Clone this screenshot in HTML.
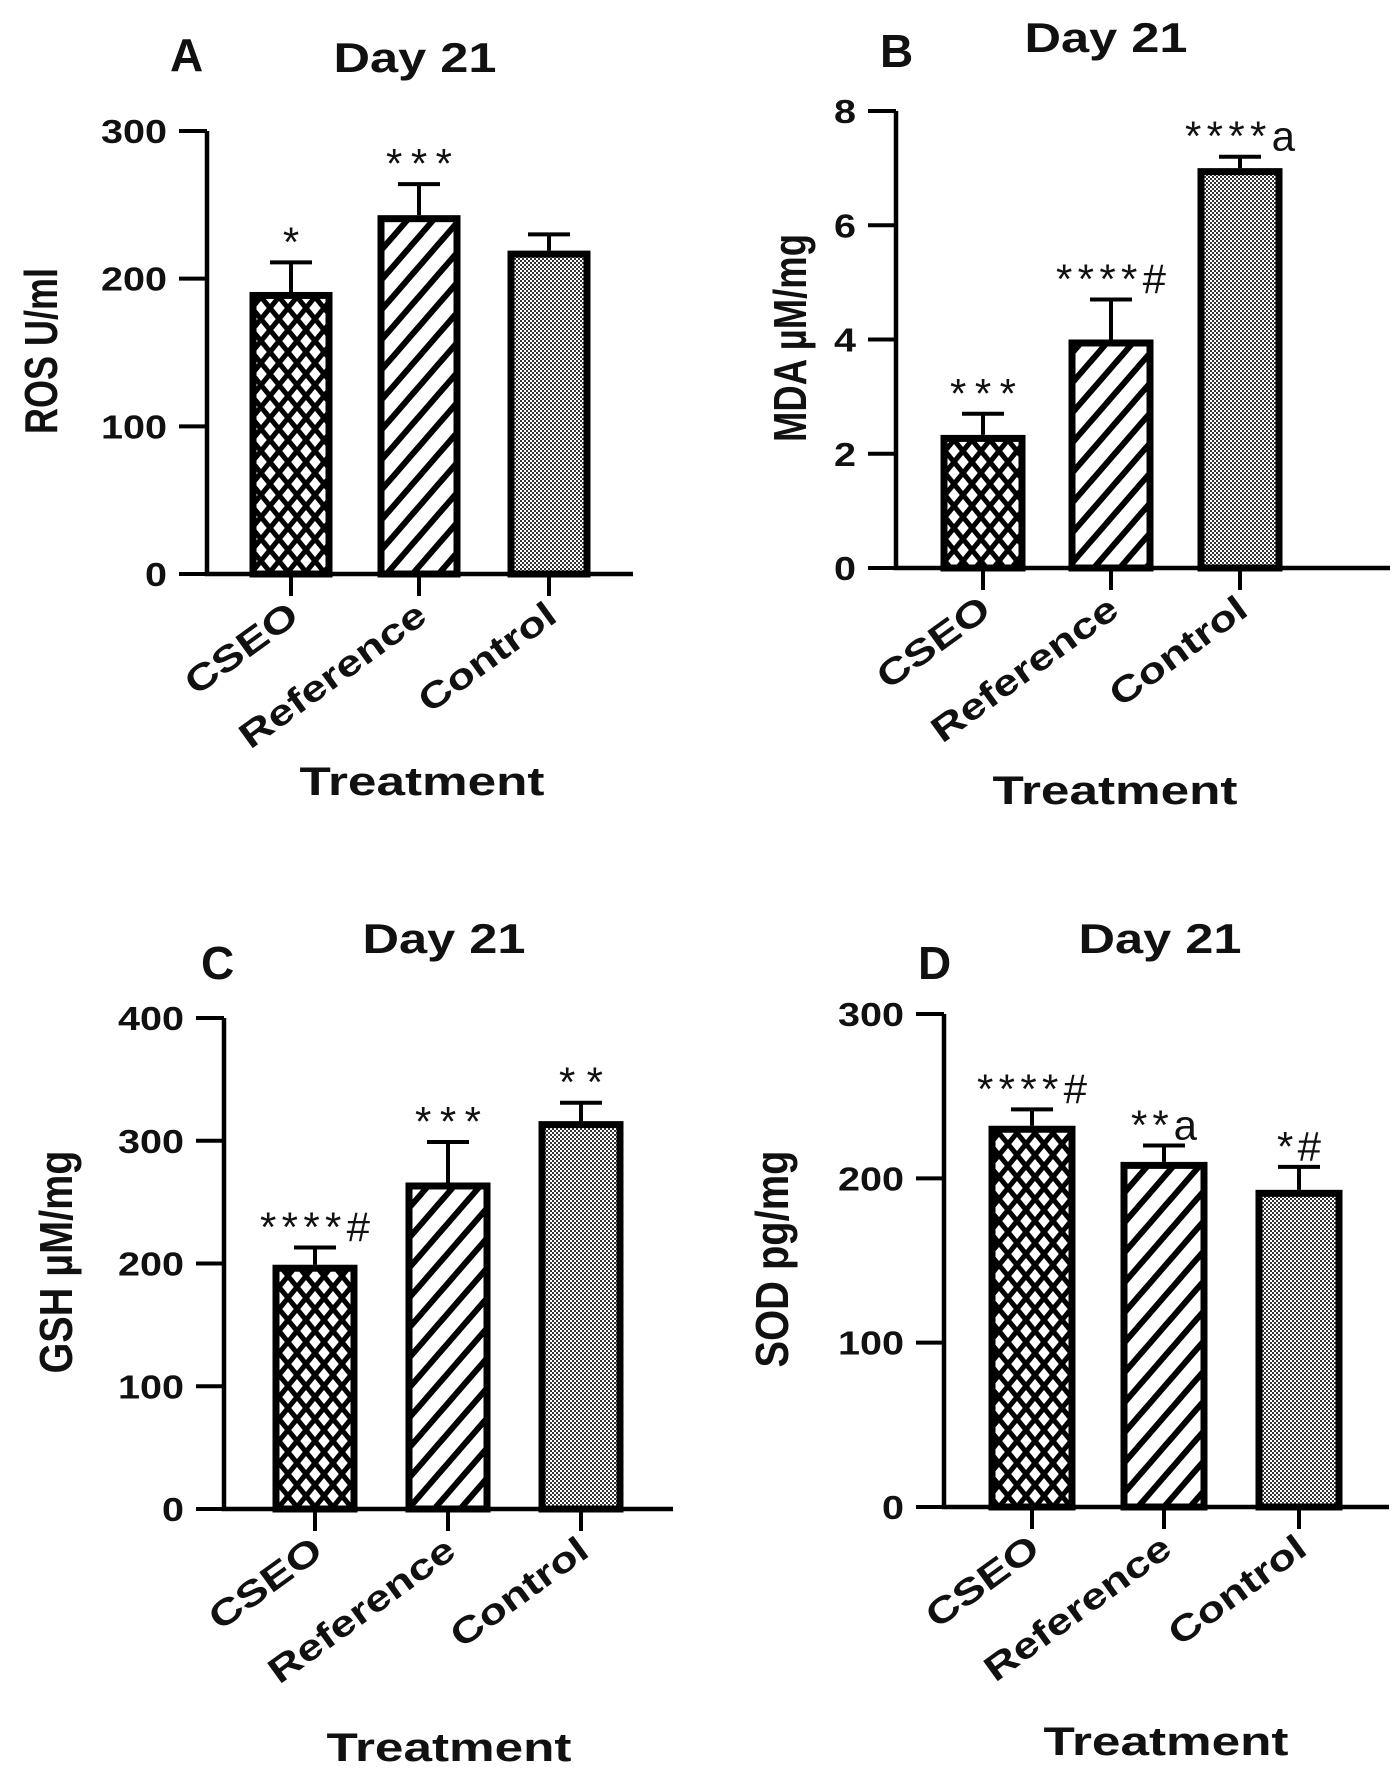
<!DOCTYPE html>
<html><head><meta charset="utf-8"><style>
html,body{margin:0;padding:0;background:#fff;}
svg{display:block;}
text{font-family:"Liberation Sans",Arial,sans-serif;fill:#111;}
</style></head>
<body>
<svg id="chart" width="1400" height="1782" viewBox="0 0 1400 1782" xmlns="http://www.w3.org/2000/svg">
<defs>
<pattern id="pat-cross" patternUnits="userSpaceOnUse" width="18" height="22">
<rect width="18" height="22" fill="#fff"/>
<path d="M0,0 L18,22 M18,0 L0,22 M-9,11 L9,33 M9,-11 L27,11 M-9,11 L9,-11 M9,33 L27,11" stroke="#000" stroke-width="5"/>
</pattern>
<pattern id="pat-stripe" patternUnits="userSpaceOnUse" width="26" height="30">
<rect width="26" height="30" fill="#fff"/>
<path d="M-6,37 L32,-7 M-19,22 L19,-22 M7,52 L45,8" stroke="#000" stroke-width="6"/>
</pattern>
<pattern id="pat-dots" patternUnits="userSpaceOnUse" width="4" height="4">
<rect width="4" height="4" fill="#fff"/>
<rect width="2" height="2" fill="#333"/>
<rect x="2" y="2" width="2" height="2" fill="#333"/>
</pattern>
</defs>
</svg>
<script>
const categories = ["CSEO", "Reference", "Control"];
const valuesA = [191, 243, 219];
const errA = [211, 264, 230];
const notesA = ["*", "***", ""];
const ticksA = [0, 100, 200, 300];
const valuesB = [2.33, 4.0, 7.0];
const errB = [2.7, 4.7, 7.2];
const notesB = ["***", "****#", "****a"];
const ticksB = [0, 2, 4, 6, 8];
const valuesC = [199, 266, 316];
const errC = [213, 299, 331];
const notesC = ["****#", "***", "**"];
const ticksC = [0, 100, 200, 300, 400];
const valuesD = [232, 210, 193];
const errD = [242, 220, 207];
const notesD = ["****#", "**a", "*#"];
const ticksD = [0, 100, 200, 300];

const NS = "http://www.w3.org/2000/svg";
const svg = document.getElementById("chart");
function mk(tag, attrs, parent, txt) {
  const e = document.createElementNS(NS, tag);
  for (const k in attrs) e.setAttribute(k, attrs[k]);
  if (txt !== undefined) e.textContent = txt;
  (parent || svg).appendChild(e);
  return e;
}
const fills = ["url(#pat-cross)", "url(#pat-stripe)", "url(#pat-dots)"];
const labelLens = [130, 221, 160];

function panel(id, L, vals, errs, notes, ticks) {
  const g = mk("g", {});
  
  
  const maxV = ticks[ticks.length - 1];
  const y = v => L.y0 - (v / maxV) * (L.y0 - L.yTop);
  const lt = mk("text", {x: L.letterX, y: L.letterY, "font-size": 46, "font-weight": "bold", "font-family": "Liberation Serif,serif"}, g, id);
  
  
  const tt = mk("text", {x: L.titleX, y: L.titleY, "font-size": 42, "font-weight": "bold", "text-anchor": "middle", textLength: 163, lengthAdjust: "spacingAndGlyphs"}, g, "Day 21");
  
  
  for (let i = 0; i < vals.length; i++) {
    const cx = L.centers[i];
    const bw = L.barW;
    const top = y(vals[i]);
    const et = y(errs[i]);
    const eb = mk("path", {d: `M${cx},${top} L${cx},${et} M${cx-21},${et} L${cx+21},${et}`, stroke: "#000", "stroke-width": 4, fill: "none"}, g);
    
    
    const r = mk("rect", {x: cx - bw/2 + 3.5, y: top + 3.5, width: bw - 7, height: L.y0 - top - 3.5, fill: fills[i], stroke: "#000", "stroke-width": 7}, g);
    
    
    if (notes[i]) {
      const n = mk("text", {x: cx, y: et - 6, "font-size": 42, "text-anchor": "middle", textLength: notes[i].length * 22, lengthAdjust: "spacing"}, g, notes[i]);
      
      
    }
    const tk = mk("line", {x1: cx, y1: L.y0, x2: cx, y2: L.y0 + 22, stroke: "#000", "stroke-width": 4}, g);
    
    
    const lx = cx + 10, ly = L.y0 + 46;
    const cl = mk("text", {x: lx, y: ly, "font-size": 36, "font-weight": "bold", "text-anchor": "end", textLength: labelLens[i], lengthAdjust: "spacingAndGlyphs", transform: `rotate(-36 ${lx} ${ly})`}, g, categories[i]);
    
    
  }
  const ax = mk("path", {d: `M${L.ax},${L.yTop} L${L.ax},${L.y0} L${L.xEnd},${L.y0}`, stroke: "#000", "stroke-width": 4.5, fill: "none"}, g);
  
  
  for (const t of ticks) {
    const ty = y(t);
    const tl = mk("line", {x1: L.ax - 28, y1: ty, x2: L.ax, y2: ty, stroke: "#000", "stroke-width": 4}, g);
    
    
    const s = String(t);
    const tx = mk("text", {x: L.ax - 40, y: ty + 12, "font-size": 33, "font-weight": "bold", "text-anchor": "end", textLength: s.length * 22, lengthAdjust: "spacingAndGlyphs", fill: "#222"}, g, s);
    
    
  }
  const yt = mk("text", {x: L.ytX, y: L.ytY, "font-size": 46, "font-weight": "bold", "text-anchor": "middle", textLength: L.ytLen, lengthAdjust: "spacingAndGlyphs", transform: `rotate(-90 ${L.ytX} ${L.ytY})`}, g, L.ytText);
  
  
  const xt = mk("text", {x: L.xtX, y: L.xtY, "font-size": 40, "font-weight": "bold", "text-anchor": "middle", textLength: 245, lengthAdjust: "spacingAndGlyphs"}, g, "Treatment");
  
  
}

panel("A", {ax:207, yTop:131, y0:574, xEnd:633, barW:83, centers:[291,419,549], letterX:170, letterY:71, titleX:415, titleY:72,
  ytX:57, ytY:351, ytLen:166, ytText:"ROS U/ml", xtX:422, xtY:795}, valuesA, errA, notesA, ticksA);
panel("B", {ax:896, yTop:111, y0:568, xEnd:1390, barW:85, centers:[983,1111,1240], letterX:880, letterY:67, titleX:1106, titleY:52,
  ytX:806, ytY:338, ytLen:208, ytText:"MDA \u00b5M/mg", xtX:1115, xtY:804}, valuesB, errB, notesB, ticksB);
panel("C", {ax:224, yTop:1018, y0:1509, xEnd:673, barW:85, centers:[315,448,581], letterX:201, letterY:979, titleX:444, titleY:953,
  ytX:72, ytY:1262, ytLen:223, ytText:"GSH \u00b5M/mg", xtX:449, xtY:1761}, valuesC, errC, notesC, ticksC);
panel("D", {ax:944, yTop:1014, y0:1507, xEnd:1389, barW:87, centers:[1032,1164,1299], letterX:918, letterY:979, titleX:1160, titleY:953,
  ytX:788, ytY:1259, ytLen:217, ytText:"SOD pg/mg", xtX:1166, xtY:1755}, valuesD, errD, notesD, ticksD);
</script>
</body></html>
